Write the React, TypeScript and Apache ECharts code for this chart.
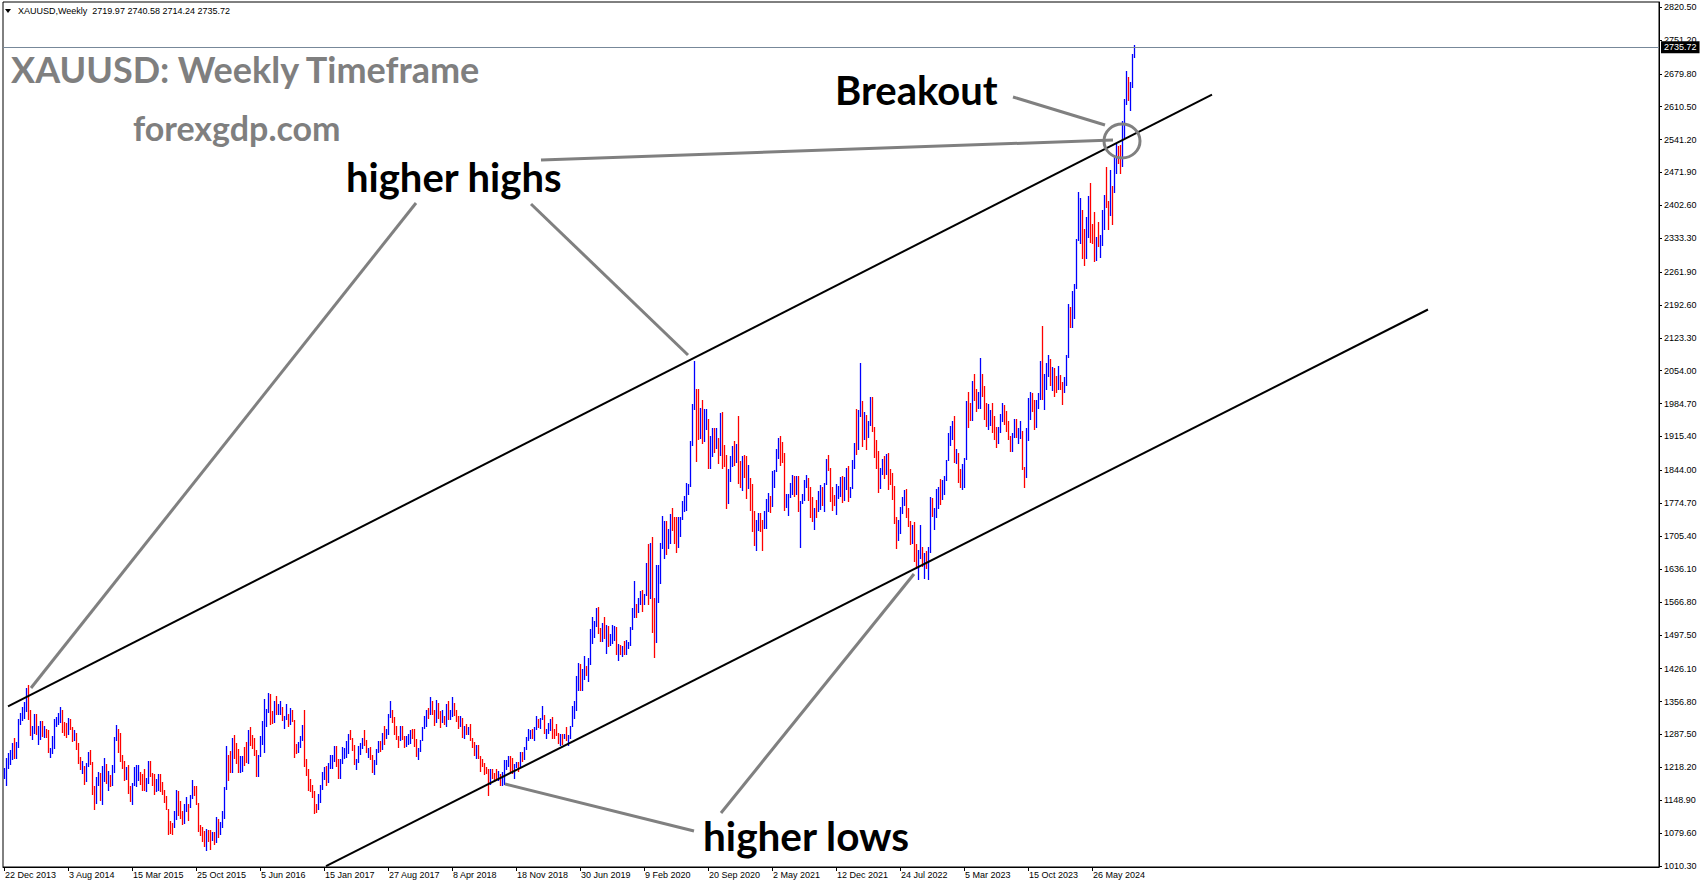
import React, { useEffect, useRef } from "react";
import * as echarts from "echarts";

// ---------- DATA (weekly XAUUSD bars: [high, low, close]) ----------
const START_WEEK_UTC = Date.UTC(2013, 11, 22); // first bar: week of 22 Dec 2013
const FIRST_OPEN = 1198;
const HEADER_TEXT = "XAUUSD,Weekly  2719.97 2740.58 2714.24 2735.72";
const LAST_OPEN = 2719.97;
const LAST_CLOSE = 2735.72;

const BARS_2013 = [[1217, 1195, 1213]];
const BARS_2014 = [
  [1238,1182,1237],[1249,1217,1247],[1255,1226,1252],[1270,1236,1264],[1280,1238,1240],[1271,1237,1262],[1320,1262,1318],[1332,1309,1323],[1345,1318,1326],[1355,1323,1339],
  [1385,1336,1379],[1392,1320,1334],[1340,1287,1294],[1306,1277,1303],[1331,1290,1318],[1331,1288,1293],[1305,1268,1300],[1315,1277,1302],[1315,1284,1288],[1305,1283,1293],
  [1300,1283,1292],[1296,1250,1250],[1259,1240,1252],[1285,1249,1274],[1321,1258,1316],[1325,1305,1316],[1332,1310,1320],[1346,1313,1337],[1338,1292,1310],[1314,1287,1306],
  [1312,1282,1294],[1322,1288,1310],[1320,1300,1305],[1304,1273,1280],[1296,1275,1287],[1290,1257,1268],[1270,1228,1231],[1240,1214,1216],[1231,1206,1217],[1222,1183,1192],
  [1228,1190,1222],[1250,1220,1238],[1255,1226,1231],[1230,1161,1171],[1178,1131,1169],[1197,1143,1190],[1208,1181,1201],[1206,1150,1167],[1220,1142,1191],[1238,1190,1222],
  [1225,1186,1195],[1210,1170,1195],
];
const BARS_2015 = [
  [1202,1178,1187],[1223,1180,1216],[1282,1208,1277],[1307,1275,1294],[1300,1250,1279],[1291,1232,1234],[1245,1216,1228],[1232,1192,1204],[1219,1193,1213],[1224,1164,1166],
  [1178,1147,1152],[1186,1142,1182],[1219,1180,1199],[1224,1178,1201],[1224,1191,1207],[1209,1183,1203],[1204,1170,1178],[1214,1170,1175],[1196,1168,1189],[1232,1185,1226],
  [1232,1201,1205],[1207,1181,1190],[1205,1162,1172],[1193,1169,1180],[1205,1171,1201],[1204,1169,1173],[1187,1162,1168],[1171,1146,1157],[1158,1130,1131],[1131,1077,1099],
  [1106,1080,1095],[1100,1077,1094],[1126,1092,1113],[1170,1109,1160],[1169,1118,1134],[1147,1112,1121],[1126,1098,1108],[1141,1100,1138],[1156,1126,1146],[1142,1107,1137],
  [1160,1134,1156],[1191,1153,1177],[1178,1159,1163],[1179,1140,1142],[1143,1084,1088],[1096,1075,1081],[1092,1062,1076],[1085,1052,1056],[1088,1045,1085],[1086,1062,1075],
  [1087,1046,1065],[1081,1065,1076],
];
const BARS_2016 = [
  [1082,1057,1061],[1113,1061,1097],[1109,1071,1088],[1103,1078,1096],[1127,1093,1117],[1177,1111,1173],[1263,1172,1239],[1244,1191,1227],[1253,1208,1222],[1280,1209,1271],
  [1287,1238,1259],[1270,1228,1255],[1256,1208,1217],[1243,1208,1222],[1243,1210,1243],[1262,1224,1234],[1271,1229,1231],[1296,1228,1291],[1304,1266,1290],[1287,1259,1273],
  [1280,1245,1252],[1254,1200,1214],[1245,1199,1243],[1284,1242,1276],[1315,1268,1298],[1362,1250,1316],[1341,1306,1340],[1375,1335,1366],[1372,1310,1327],[1337,1311,1323],
  [1357,1314,1350],[1368,1331,1336],[1352,1330,1336],[1357,1331,1341],[1346,1318,1321],[1327,1302,1327],[1352,1321,1328],[1330,1305,1310],[1344,1310,1339],[1338,1316,1316],
  [1317,1241,1257],[1267,1248,1251],[1272,1251,1267],[1285,1262,1276],[1308,1275,1304],[1338,1222,1225],[1236,1203,1208],[1214,1171,1178],[1194,1169,1177],[1180,1156,1159],
  [1168,1122,1137],[1140,1124,1133],[1163,1131,1152],
];
const BARS_2017 = [
  [1181,1146,1173],[1208,1173,1197],[1219,1194,1210],[1220,1180,1190],[1227,1188,1220],[1245,1217,1234],[1245,1216,1236],[1264,1232,1258],[1264,1222,1234],[1236,1195,1202],
  [1235,1196,1230],[1261,1228,1244],[1260,1237,1249],[1274,1240,1254],[1289,1248,1286],[1296,1277,1284],[1281,1255,1268],[1266,1226,1228],[1236,1214,1228],[1264,1229,1254],
  [1270,1247,1267],[1281,1259,1280],[1296,1265,1267],[1275,1250,1254],[1260,1241,1256],[1262,1236,1242],[1245,1209,1211],[1233,1205,1228],[1256,1225,1254],[1274,1251,1269],
  [1274,1252,1258],[1290,1257,1289],[1306,1267,1285],[1300,1281,1291],[1330,1288,1325],[1357,1325,1346],[1338,1314,1320],[1325,1288,1297],[1305,1277,1280],[1284,1261,1275],
  [1306,1275,1304],[1306,1277,1280],[1284,1262,1266],[1284,1264,1269],[1289,1268,1275],[1297,1270,1294],[1298,1280,1287],[1299,1264,1280],[1278,1243,1248],[1260,1236,1256],
  [1275,1252,1274],[1303,1276,1302],
];
const BARS_2018 = [
  [1326,1301,1321],[1338,1306,1337],[1344,1323,1331],[1366,1331,1350],[1358,1331,1333],[1338,1307,1316],[1361,1314,1348],[1353,1322,1330],[1337,1303,1322],[1340,1313,1323],
  [1326,1310,1313],[1351,1305,1347],[1357,1321,1325],[1340,1321,1332],[1366,1326,1345],[1354,1329,1336],[1338,1316,1323],[1326,1302,1315],[1326,1305,1319],[1323,1283,1292],
  [1306,1281,1301],[1309,1288,1294],[1303,1289,1298],[1309,1276,1278],[1280,1261,1270],[1272,1245,1252],[1265,1238,1255],[1265,1237,1241],[1243,1211,1231],[1235,1220,1223],
  [1228,1204,1214],[1219,1206,1211],[1214,1160,1184],[1214,1183,1206],[1214,1195,1201],[1207,1190,1197],[1214,1191,1194],[1211,1191,1199],[1204,1180,1191],[1208,1181,1203],
  [1233,1183,1222],[1233,1215,1226],[1243,1222,1234],[1243,1211,1233],[1237,1207,1210],[1225,1196,1222],[1230,1218,1222],[1230,1211,1221],[1250,1221,1248],[1251,1231,1238],
  [1261,1235,1258],[1283,1256,1280],
];
const BARS_2019 = [
  [1298,1275,1285],[1297,1279,1288],[1299,1280,1282],[1304,1276,1303],[1326,1298,1318],[1320,1303,1314],[1323,1302,1322],[1347,1320,1328],[1329,1290,1294],[1300,1281,1298],
  [1311,1290,1303],[1320,1297,1312],[1325,1281,1292],[1298,1280,1291],[1310,1286,1290],[1291,1270,1275],[1288,1266,1286],[1288,1267,1280],[1289,1280,1286],[1303,1275,1277],
  [1287,1266,1284],[1306,1281,1305],[1348,1306,1341],[1358,1322,1341],[1411,1338,1399],[1439,1382,1409],[1437,1381,1399],[1426,1382,1415],[1453,1404,1426],[1432,1412,1419],
  [1449,1400,1440],[1510,1437,1497],[1535,1480,1513],[1527,1492,1527],[1555,1517,1529],[1557,1502,1506],[1512,1484,1488],[1523,1484,1517],[1535,1491,1497],[1519,1459,1505],
  [1517,1474,1488],[1500,1477,1490],[1518,1480,1505],[1516,1487,1514],[1515,1456,1459],[1478,1445,1468],[1475,1456,1462],[1474,1452,1464],[1485,1458,1460],[1486,1456,1476],
  [1482,1470,1478],[1514,1477,1511],
];
const BARS_2020 = [
  [1553,1510,1552],[1611,1536,1562],[1563,1536,1557],[1576,1546,1572],[1589,1563,1589],[1592,1547,1570],[1584,1562,1584],[1649,1582,1644],[1689,1563,1585],[1692,1576,1674],
  [1703,1504,1530],[1575,1451,1499],[1645,1482,1618],[1645,1567,1620],[1690,1606,1683],[1748,1680,1684],[1738,1660,1728],[1738,1667,1700],[1721,1680,1702],[1752,1691,1744],
  [1765,1718,1735],[1745,1692,1730],[1745,1671,1685],[1745,1683,1730],[1745,1705,1743],[1779,1742,1771],[1789,1758,1775],[1818,1760,1799],[1815,1795,1810],[1906,1812,1902],
  [1984,1897,1975],[2075,1974,2035],[2015,1863,1944],[2015,1911,1940],[1976,1912,1964],[1992,1902,1934],[1973,1906,1940],[1973,1931,1950],[1953,1848,1862],[1917,1849,1899],
  [1933,1874,1930],[1933,1882,1899],[1934,1891,1902],[1913,1860,1879],[1965,1877,1951],[1966,1850,1889],[1898,1853,1872],[1876,1764,1788],[1847,1776,1839],[1875,1821,1840],
  [1896,1853,1881],[1906,1855,1877],
];
const BARS_2021 = [
  [1900,1862,1898],[1959,1817,1850],[1864,1808,1828],[1875,1802,1855],[1876,1831,1848],[1875,1785,1813],[1855,1806,1824],[1827,1760,1784],[1815,1717,1734],[1759,1687,1700],
  [1739,1676,1727],[1755,1719,1745],[1755,1717,1733],[1740,1677,1729],[1758,1722,1744],[1784,1723,1777],[1797,1759,1777],[1790,1756,1769],[1843,1768,1831],[1845,1808,1844],
  [1890,1843,1881],[1912,1870,1903],[1916,1855,1891],[1903,1862,1877],[1880,1761,1764],[1795,1766,1781],[1795,1750,1787],[1818,1788,1808],[1834,1794,1812],[1832,1789,1801],
  [1832,1794,1814],[1832,1758,1763],[1780,1682,1780],[1795,1775,1781],[1823,1781,1817],[1834,1808,1827],[1827,1782,1787],[1809,1745,1754],[1787,1737,1750],[1765,1721,1761],
  [1782,1746,1757],[1800,1758,1768],[1814,1762,1793],[1810,1772,1783],[1818,1759,1818],[1869,1816,1864],[1877,1845,1846],[1849,1779,1788],[1809,1761,1783],[1793,1770,1782],
  [1815,1753,1798],[1812,1785,1809],[1831,1789,1829],
];
const BARS_2022 = [
  [1832,1778,1797],[1830,1782,1817],[1848,1805,1835],[1853,1780,1791],[1810,1788,1808],[1865,1806,1859],[1902,1850,1898],[1974,1878,1889],[1972,1890,1966],[2070,1958,1988],
  [1990,1895,1921],[1966,1910,1958],[1960,1890,1925],[1948,1915,1945],[1998,1940,1975],[1998,1928,1932],[1936,1872,1897],[1909,1850,1883],[1885,1798,1811],[1849,1806,1846],
  [1869,1837,1853],[1874,1828,1851],[1878,1836,1871],[1880,1805,1839],[1847,1816,1827],[1838,1784,1811],[1812,1733,1742],[1745,1680,1703],[1739,1698,1727],[1767,1711,1766],
  [1788,1754,1775],[1802,1771,1802],[1804,1745,1747],[1765,1727,1738],[1738,1688,1712],[1729,1691,1716],[1735,1654,1675],[1688,1639,1644],[1676,1615,1660],[1729,1660,1695],
  [1683,1642,1644],[1670,1618,1657],[1675,1638,1645],[1682,1616,1681],[1787,1673,1771],[1786,1747,1751],[1765,1721,1755],[1805,1745,1797],[1810,1765,1797],[1825,1773,1793],
  [1823,1784,1798],[1833,1795,1824],
];
const BARS_2023 = [
  [1865,1824,1865],[1922,1866,1920],[1937,1897,1926],[1949,1911,1928],[1959,1862,1865],[1890,1860,1865],[1880,1819,1842],[1846,1809,1811],[1858,1804,1856],[1870,1809,1868],
  [1990,1868,1989],[2009,1935,1978],[1987,1950,1969],[2032,1950,2008],[2048,1992,2004],[2015,1969,1983],[2009,1975,1990],[2081,1976,2017],[2048,2000,2011],[2022,1952,1978],
  [1985,1937,1946],[1983,1932,1948],[1971,1940,1961],[1985,1924,1958],[1959,1910,1921],[1935,1893,1919],[1935,1902,1925],[1963,1924,1955],[1987,1949,1962],[1982,1942,1959],
  [1970,1928,1943],[1948,1911,1914],[1916,1885,1889],[1922,1884,1914],[1953,1914,1940],[1953,1915,1919],[1933,1901,1924],[1947,1913,1925],[1926,1846,1848],[1852,1810,1832],
  [1933,1830,1932],[1997,1908,1981],[2009,1953,2006],[2008,1970,1992],[1993,1931,1940],[1993,1936,1981],[2007,1975,2001],[2075,1995,2072],[2148,1994,2004],[2047,1973,2019],
  [2070,2016,2053],[2088,2042,2063],
];
const BARS_2024 = [
  [2078,2024,2045],[2062,2013,2049],[2060,2001,2029],[2042,2010,2018],[2065,2015,2039],[2044,2015,2024],[2031,1984,2013],[2041,2010,2036],[2088,2024,2083],[2195,2083,2179],
  [2189,2146,2155],[2223,2146,2165],[2236,2165,2232],[2331,2228,2329],[2431,2329,2344],[2417,2324,2392],[2392,2291,2337],[2353,2277,2301],[2378,2291,2360],[2422,2336,2415],
  [2450,2325,2334],[2364,2323,2327],[2388,2286,2294],[2336,2287,2333],[2368,2316,2322],[2340,2293,2326],[2392,2319,2392],[2424,2352,2411],[2484,2398,2400],[2412,2353,2386],
  [2477,2382,2443],[2444,2364,2431],[2509,2431,2507],[2531,2470,2512],[2528,2491,2503],[2529,2471,2497],[2580,2485,2578],[2626,2547,2622],[2685,2617,2658],[2673,2625,2654],
  [2663,2604,2657],[2721,2651,2720],[2740.58,2714.24,2735.72],
];

// price-axis tick labels (as printed on the right scale)
const Y_TICKS = [
  1010.3, 1079.6, 1148.9, 1218.2, 1287.5, 1356.8, 1426.1, 1497.5, 1566.8, 1636.1, 1705.4, 1774.7, 1844.0, 1915.4,
  1984.7, 2054.0, 2123.3, 2192.6, 2261.9, 2333.3, 2402.6, 2471.9, 2541.2, 2610.5, 2679.8, 2751.2, 2820.5,
];
const Y_MIN = 1008.2;
const Y_MAX = 2831.0;

// time-axis labels (every 32 weeks)
const X_TICK_LABELS = [
  "22 Dec 2013", "3 Aug 2014", "15 Mar 2015", "25 Oct 2015", "5 Jun 2016", "15 Jan 2017", "27 Aug 2017", "8 Apr 2018",
  "18 Nov 2018", "30 Jun 2019", "9 Feb 2020", "20 Sep 2020", "2 May 2021", "12 Dec 2021", "24 Jul 2022", "5 Mar 2023",
  "15 Oct 2023", "26 May 2024",
];
const X_LABEL_STEP = 32;

// trend lines: [weekIndex, price]
const UPPER_CHANNEL = [[2, 1346.5], [604, 2635.9]];
const LOWER_CHANNEL = [[161, 1010.0], [712, 2183.0]];

const TOTAL_SLOTS = 828; // chart shift: empty weeks to the right
const UP_COLOR = "#0000ff";
const DOWN_COLOR = "#ff0000";

// ---------- derived ----------
const ALL_BARS = [
  ...BARS_2013, ...BARS_2014, ...BARS_2015, ...BARS_2016, ...BARS_2017, ...BARS_2018,
  ...BARS_2019, ...BARS_2020, ...BARS_2021, ...BARS_2022, ...BARS_2023, ...BARS_2024,
];
const LAST_INDEX = ALL_BARS.length - 1;
const OHLC = ALL_BARS.map((b, i) => {
  const open = i === 0 ? FIRST_OPEN : i === LAST_INDEX ? LAST_OPEN : ALL_BARS[i - 1][2];
  return [i, open, b[0], b[1], b[2]];
});
const MONTHS = ["Jan", "Feb", "Mar", "Apr", "May", "Jun", "Jul", "Aug", "Sep", "Oct", "Nov", "Dec"];
const CATEGORIES = Array.from({ length: TOTAL_SLOTS }, (_, i) => {
  const d = new Date(START_WEEK_UTC + i * 7 * 86400000);
  return `${d.getUTCDate()} ${MONTHS[d.getUTCMonth()]} ${d.getUTCFullYear()}`;
});

const isLabelIndex = (idx: number) => idx % X_LABEL_STEP === 0 && idx / X_LABEL_STEP < X_TICK_LABELS.length;

const AXIS_FONT = "Liberation Sans";
const NOTE_FONT = "Lato";
const GREY = "#808080";

function buildOption() {
  const pointer = (x1: number, y1: number, x2: number, y2: number) => ({
    type: "line",
    z: 50,
    shape: { x1, y1, x2, y2 },
    style: { stroke: GREY, lineWidth: 3 },
  });
  const note = (text: string, x: number, y: number, size: number, fill: string) => ({
    type: "text",
    z: 60,
    x,
    y,
    style: {
      text,
      fill,
      fontSize: size,
      fontWeight: "bold",
      fontFamily: NOTE_FONT,
      verticalAlign: "middle",
      align: "left",
    },
  });

  return {
    animation: false,
    backgroundColor: "#ffffff",
    grid: {
      left: 3,
      right: 46,
      top: 2,
      bottom: 21,
      show: true,
      borderColor: "#000",
      borderWidth: 1,
      backgroundColor: "#ffffff",
    },
    xAxis: {
      type: "category",
      data: CATEGORIES,
      boundaryGap: true,
      axisLine: { show: true, lineStyle: { color: "#000", width: 1 } },
      axisTick: {
        show: true,
        alignWithLabel: true,
        interval: (idx: number) => isLabelIndex(idx),
        length: 4,
        lineStyle: { color: "#000" },
      },
      axisLabel: {
        interval: (idx: number) => isLabelIndex(idx),
        formatter: (_v: string, idx: number) => X_TICK_LABELS[idx / X_LABEL_STEP] ?? "",
        align: "left",
        margin: 3,
        padding: [0, 0, 0, 1],
        fontSize: 9,
        fontFamily: AXIS_FONT,
        color: "#000",
      },
      splitLine: { show: false },
    },
    yAxis: {
      type: "value",
      position: "right",
      min: Y_MIN,
      max: Y_MAX,
      axisLine: { show: true, lineStyle: { color: "#000", width: 1 } },
      axisTick: { show: true, customValues: Y_TICKS, length: 3, lineStyle: { color: "#000" } },
      axisLabel: {
        customValues: Y_TICKS,
        formatter: (v: number) => v.toFixed(2),
        fontSize: 9,
        fontFamily: AXIS_FONT,
        color: "#000",
        margin: 5,
      },
      splitLine: { show: false },
    },
    series: [
      {
        type: "custom",
        name: "XAUUSD",
        z: 2,
        clip: true,
        data: OHLC,
        encode: { x: 0, y: [1, 2, 3, 4] },
        renderItem: (_params: any, api: any) => {
          const i = api.value(0);
          const o = api.value(1);
          const h = api.value(2);
          const l = api.value(3);
          const c = api.value(4);
          const top = api.coord([i, h]);
          const bot = api.coord([i, l]);
          const x = Math.round(top[0]) + 0.5;
          return {
            type: "line",
            shape: { x1: x, y1: Math.round(top[1]), x2: x, y2: Math.round(bot[1]) + 1 },
            style: { stroke: c >= o ? UP_COLOR : DOWN_COLOR, lineWidth: 1.3 },
          };
        },
      },
      {
        type: "line",
        name: "upper channel",
        z: 5,
        data: UPPER_CHANNEL,
        symbol: "none",
        lineStyle: { color: "#000", width: 2 },
        markLine: {
          silent: true,
          symbol: ["none", "none"],
          lineStyle: { color: "#778899", width: 1, type: "solid" },
          label: {
            show: true,
            position: "end",
            distance: 2,
            formatter: () => LAST_CLOSE.toFixed(2),
            color: "#fff",
            backgroundColor: "#000",
            padding: [2, 3, 1, 3],
            fontSize: 9,
            fontFamily: AXIS_FONT,
          },
          data: [{ yAxis: LAST_CLOSE }],
        },
      },
      {
        type: "line",
        name: "lower channel",
        z: 5,
        data: LOWER_CHANNEL,
        symbol: "none",
        lineStyle: { color: "#000", width: 2 },
      },
    ],
    graphic: [
      {
        type: "polygon",
        z: 60,
        shape: { points: [[5, 9], [11, 9], [8, 13]] },
        style: { fill: "#000" },
      },
      {
        type: "text",
        z: 60,
        x: 18,
        y: 11,
        style: { text: HEADER_TEXT, fill: "#000", fontSize: 9, fontFamily: AXIS_FONT, verticalAlign: "middle" },
      },
      note("XAUUSD: Weekly Timeframe", 11, 69, 36, "#7f7f7f"),
      note("forexgdp.com", 133, 127, 34, "#7f7f7f"),
      note("Breakout", 835, 90, 40, "#000"),
      note("higher highs", 346, 177, 40, "#000"),
      note("higher lows", 703, 835, 40.5, "#000"),
      pointer(416, 203, 31, 688),
      pointer(531, 204, 688, 355),
      pointer(541, 160, 1113, 140),
      pointer(1013, 97, 1105, 125),
      pointer(694, 831, 505, 784),
      pointer(721, 813, 914, 574),
      {
        type: "ellipse",
        z: 55,
        shape: { cx: 1122, cy: 141, rx: 18, ry: 17 },
        style: { fill: "none", stroke: GREY, lineWidth: 3 },
      },
    ],
  };
}

export default function App() {
  const ref = useRef<HTMLDivElement>(null);
  useEffect(() => {
    if (!ref.current) return;
    const chart = echarts.init(ref.current, null, { renderer: "svg" });
    chart.setOption(buildOption() as any);
    return () => chart.dispose();
  }, []);
  return (
    <div
      ref={ref}
      style={{ position: "fixed", left: 0, top: 0, width: "1705px", height: "888px", background: "#fff" }}
    />
  );
}
